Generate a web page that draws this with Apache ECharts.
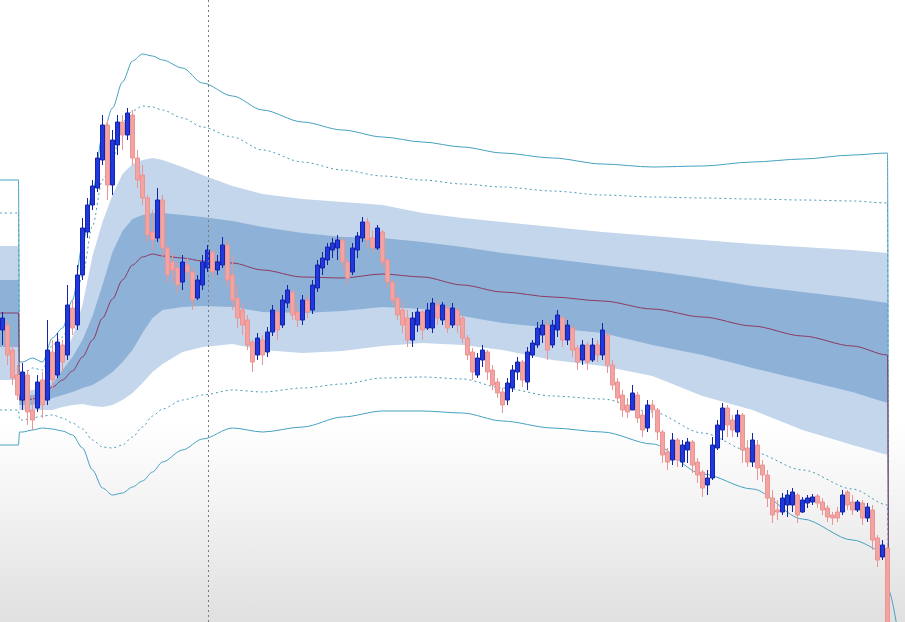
<!DOCTYPE html>
<html><head><meta charset="utf-8">
<script src="https://cdn.jsdelivr.net/npm/echarts@6/dist/echarts.min.js"></script>
<style>
html,body{margin:0;padding:0;background:#fff;}
#c{width:905px;height:622px;background:linear-gradient(to bottom,#ffffff 0%,#ffffff 68%,#f2f2f2 82%,#e0e0e0 100%);}
</style>
</head><body><div id="c"></div>
<script>
// OHLC bars: [open, close, low, high]
const bars = [
[670,682,655,688],[675,645,635,680],[650,622,615,655],[625,605,600,635],
[600,628,590,637],[625,588,575,630],[590,580,570,605],[592,618,588,625],[620,595,582,628],
[600,650,595,680],[648,620,610,660],[625,658,622,667],[655,638,628,660],[645,695,640,715],
[692,672,665,700],[675,725,670,735],[725,772,720,782],[768,795,762,802],[795,814,790,820],
[812,842,808,848],[840,875,835,885],[875,815,800,880],[815,860,805,870],[855,878,845,885],
[878,865,850,885],[865,887,860,892],[885,842,835,890],[842,820,812,850],[825,802,795,835],
[802,765,758,805],[768,760,750,790],[762,800,758,812],[800,752,743,805],[752,725,717,755],
[738,730,718,747],[732,715,707,738],[718,738,710,745],[735,728,720,742],[728,700,690,732],
[702,720,700,725],[715,738,710,745],[732,750,728,755],[748,728,722,750],[730,738,725,745],
[735,755,732,763],[755,720,713,760],[725,700,690,745],[702,682,672,715],[690,675,665,697],
[680,655,650,685],[658,638,628,660],[645,662,640,667],[660,645,635,665],[648,668,643,673],
[668,690,664,695],[688,670,660,692],[675,700,672,705],[697,710,692,715],[708,685,680,710],
[688,680,673,697],[680,700,675,705],[700,688,682,705],[690,715,686,720],[712,735,708,740],
[732,742,725,748],[740,753,735,757],[750,757,742,762],[752,760,740,765],[760,738,732,762],
[738,722,715,742],[728,752,725,757],[750,764,742,768],[762,778,758,783],[778,760,752,782],
[762,752,747,770],[752,772,750,775],[768,738,733,770],[740,718,712,742],[718,700,695,720],
[702,685,680,705],[690,675,667,700],[682,660,653,690],[660,682,653,688],[675,688,668,692],
[688,670,660,690],[672,690,670,697],[672,697,667,702],[695,682,675,700],[680,695,675,698],
[692,672,667,695],[675,692,672,697],[690,675,667,693],[682,662,657,685],[662,645,640,665],
[648,628,620,652],[625,642,622,647],[640,650,633,655],[648,628,620,650],[630,615,610,635],
[618,607,602,622],[608,595,587,612],[600,617,595,622],[612,630,608,635],[628,638,620,643],
[638,620,613,640],[618,648,610,653],[645,657,642,660],[655,672,652,678],[665,675,657,680],
[675,650,640,680],[655,675,652,680],[670,685,663,690],[682,660,653,685],[660,675,655,680],
[672,650,643,675],[652,638,630,655],[640,655,635,660],[655,638,630,658],[640,655,638,662],
[655,645,638,660],[645,670,640,677],[665,635,627,668],[635,615,610,640],[618,602,597,622],
[605,590,583,610],[595,588,582,602],[590,607,590,615],[605,582,577,608],[585,570,563,590],
[572,595,568,600],[595,590,582,600],[590,568,560,592],[568,545,537,570],[548,538,530,552],
[540,560,535,567],[560,540,533,562],[538,555,533,560],[550,558,537,562],[558,535,527,560],
[538,525,517,542],[528,512,503,530],[515,522,505,530],[522,555,520,563],[552,575,550,580],
[570,592,560,597],[592,575,563,595],[580,570,563,585],[568,585,563,590],[585,550,537,587],
[552,538,533,560],[538,560,533,567],[555,532,520,560],[535,525,518,540],[525,502,493,530],
[502,485,477,510],[490,488,480,500],[488,502,485,507],[495,505,483,510],[495,508,488,512],
[505,485,477,507],[488,500,487,503],[497,502,492,505],[498,503,495,506],[504,497,492,506],
[498,490,485,502],[492,483,478,495],[485,482,475,488],[488,482,478,493],[488,505,485,510],
[508,495,490,510],[498,490,485,505],[490,498,488,500],[497,482,475,500],[482,493,478,497],
[490,460,450,495],[462,440,433,465],[443,455,440,460],[452,360,340,455]
];
const categories = Array.from({length: 181}, (_, i) => String(i));

// indicator lines, sampled at bar positions (previous session, new session, next session)
const lineIdx = [-0.5,3.2,3.4,4,6,8,10,12,14,16,18,20,22,24,26,28,30,32,36,40,46,52,60,68,76,84,92,100,110,120,130,140,150,160,170,177,177.2,179];
const upperTeal = [820,820,638,638,642,638,662,672,700,755,808,865,892,918,939,946,944,940,932,917,904,890,878,870,863,858,853,847,842,836,833,834,838,841,845,847,415,null];
const upperDot  = [787,787,625,625,632,630,655,663,682,725,774,820,840,878,889,894,893,890,882,873,863,850,838,830,824,820,816,813,809,805,803,802,801,800,799,797,412,null];
const lightTop  = [754,754,608,608,610,612,620,642,663,695,744,778,805,826,836,840,842,840,833,825,814,806,801,798,795,787,782,778,773,768,764,760,756,753,750,747,402,null];
const darkTop   = [720,720,605,605,605,607,616,630,643,660,684,715,748,769,781,785,787,787,785,783,779,773,767,763,762,758,753,747,741,735,729,722,714,708,702,697,401,null];
const vwap      = [687,687,600,600,601,604,613,620,629,643,660,682,701,720,735,743,746,744,742,739,737,730,723,722,726,723,715,708,703,699,691,683,674,664,654,645,400,null];
const darkBot   = [653,653,595,595,595,597,602,605,608,612,615,621,628,638,650,667,682,690,693,694,693,688,687,689,693,691,684,677,672,667,655,645,632,620,608,597,399,null];
const lightBot  = [620,620,590,590,590,590,590,593,595,596,594,593,595,600,607,617,628,636,648,653,656,650,647,649,654,657,655,650,640,634,624,604,590,570,555,545,398,null];
const lowerDot  = [590,590,580,580,582,584,585,582,577,571,560,553,552,555,563,573,584,591,600,605,610,608,612,616,622,623,621,612,604,601,588,567,548,530,511,495,398,null];
const lowerTeal = [555,555,568,568,570,572,571,569,565,552,530,512,505,507,513,519,528,538,550,561,572,568,573,583,589,589,587,579,572,568,556,526,511,481,460,447,410,370];
const markerBar = 41.1;

const SM = 0.3;
function pts(arr) {
  const out = [];
  for (let k = 0; k < lineIdx.length; k++) if (arr[k] !== null) out.push([lineIdx[k], arr[k]]);
  return out;
}
// band = filled polygon between two indicator lines, positioned through the axes (api.coord)
function band(lo, hi, color) {
  const data = [];
  for (let k = 0; k < lineIdx.length; k++) {
    if (lo[k] === null || hi[k] === null) continue;
    data.push([lineIdx[k], lo[k], hi[k]]);
  }
  return {
    type:'custom', xAxisIndex:1, silent:true, z:1, data:data,
    encode:{x:0, y:[1,2]},
    renderItem:function (params, api) {
      if (params.dataIndex !== 0) return null;
      const top = [], bot = [];
      for (let k = 0; k < data.length; k++) {
        top.push(api.coord([data[k][0], data[k][2]]));
        bot.push(api.coord([data[k][0], data[k][1]]));
      }
      return {type:'polygon', shape:{points: top.concat(bot.reverse())}, style:{fill: color, stroke: null}};
    }
  };
}
function line(arr, color, type, width, extra) {
  return Object.assign({type:'line', xAxisIndex:1, data:pts(arr), symbol:'none', smooth:SM, smoothMonotone:'x',
    lineStyle:{color:color, width:width, type:type}, silent:true, z:3}, extra || {});
}

const chart = echarts.init(document.getElementById('c'), null, {renderer:'canvas'});
chart.setOption({
  animation:false,
  backgroundColor:'transparent',
  grid:{left:0, right:0, top:0, bottom:0},
  xAxis:[
    {type:'category', data:categories, boundaryGap:true, show:false},
    {type:'value', min:-0.5, max:180.5, show:false}
  ],
  yAxis:{type:'value', min:378, max:1000, show:false, splitLine:{show:false}},
  series:[
    band(lightBot, lightTop, '#c3d6eb'),
    band(darkBot, darkTop, '#8eb1d7'),
    line(upperTeal, '#46a0c0', 'solid', 1, {
      markLine:{silent:true, symbol:'none', label:{show:false},
        lineStyle:{color:'#7a7a7a', type:[2,3], width:1}, data:[{xAxis:markerBar}]}
    }),
    line(lowerTeal, '#46a0c0', 'solid', 1),
    line(upperDot, '#4a98b8', [2,3], 1),
    line(lowerDot, '#4a98b8', [2,3], 1),
    line(vwap, '#8c3a62', 'solid', 1),
    {type:'candlestick', data:bars, barWidth:3.6, z:4, silent:true,
     itemStyle:{color:'#2038e0', color0:'#f4a3a3', borderColor:'#1424a8', borderColor0:'#ea9494', borderWidth:1}}
  ]
});
</script>
</body></html>
